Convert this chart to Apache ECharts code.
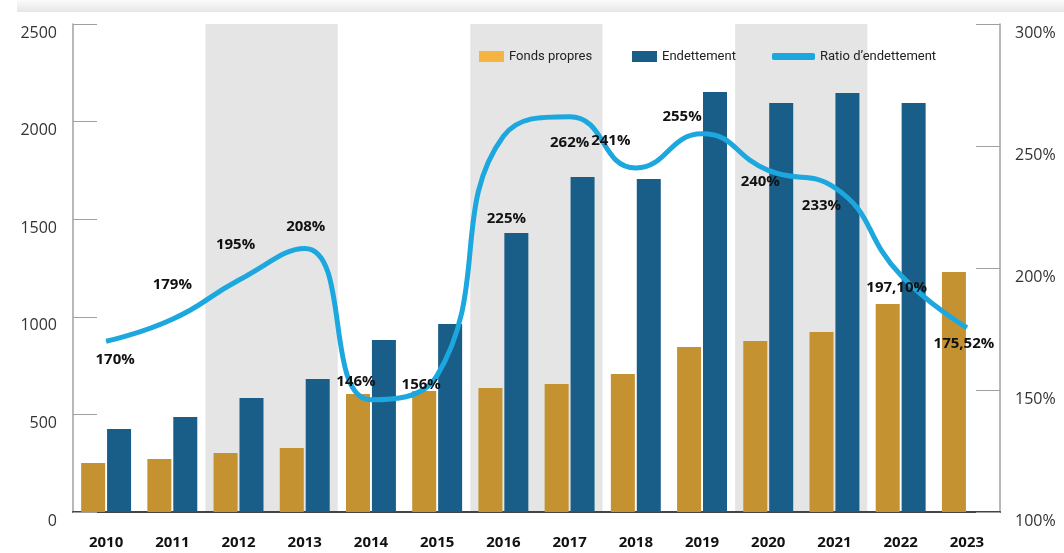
<!DOCTYPE html>
<html>
<head>
<meta charset="utf-8">
<script src="https://cdn.jsdelivr.net/npm/echarts@6/dist/echarts.min.js"></script>
<style>
  html, body { margin: 0; padding: 0; background: #fff; }
  #chart { width: 1064px; height: 553px; }
</style>
</head>
<body>
<div id="chart"></div>
<script>
// data
const years = ['2010', '2011', '2012', '2013', '2014', '2015', '2016', '2017', '2018', '2019', '2020', '2021', '2022', '2023']
const fondsPropres = [251, 272, 302, 328, 605, 620, 635, 656, 707, 845, 876, 922, 1066, 1230]
const endettement = [425, 487, 584, 681, 881, 963, 1429, 1716, 1706, 2152, 2095, 2146, 2095, null]
// ratio as drawn by the curve
const ratio = [170, 179, 195, 208, 146, 156, 254, 262, 241, 255, 240, 233, 197.1, 175.52]
const ratioLabels = ['170%', '179%', '195%', '208%', '146%', '156%', '225%', '262%', '241%', '255%', '240%', '233%', '197,10%', '175,52%']
const leftTicks = { min: 0, max: 2500, interval: 500 }
const rightTicks = { min: 100, max: 300, interval: 50 }

// where each ratio label sits relative to its point
const labelOffsets = [[9, 19], [0, -35], [-3, -35], [1, -22], [-15, -18], [-16, 9], [3, 82], [0, 26],
  [-25, -27], [-20, -17], [-8, 11], [-13, 18], [-4, 13], [-3, 16]]

const colors = {
  gold: '#C59232',
  goldLegend: '#F5B342',
  blue: '#195E89',
  line: '#1DA7DF',
  band: '#E4E5E4'
}

const font = 'Open Sans'
const chart = echarts.init(document.getElementById('chart'))

const legendText = { fontFamily: 'Roboto', fontSize: 13, color: '#222' }

chart.setOption({
  animation: false,
  textStyle: { fontFamily: font },
  graphic: [{
    type: 'rect',
    left: 17, top: 0,
    shape: { width: 1047, height: 12 },
    style: {
      fill: new echarts.graphic.LinearGradient(0, 0, 0, 1, [
        { offset: 0, color: '#fbfbfb' },
        { offset: 1, color: '#e6e6e6' }
      ])
    },
    z: -1
  }],
  legend: [
    {
      left: 474, top: 45, itemWidth: 25, itemHeight: 11, textStyle: legendText,
      data: [{ name: 'Fonds propres', icon: 'rect', itemStyle: { color: colors.goldLegend } }]
    },
    {
      left: 627, top: 45, itemWidth: 25, itemHeight: 11, textStyle: legendText,
      data: [{ name: 'Endettement', icon: 'rect' }]
    },
    {
      left: 767, top: 45, itemWidth: 43, itemHeight: 7, textStyle: legendText,
      data: [{ name: "Ratio d\u2019endettement", icon: 'roundRect' }]
    }
  ],
  grid: { left: 73, right: 64, top: 24, bottom: 41 },
  xAxis: {
    type: 'category',
    data: years,
    axisLine: { lineStyle: { color: '#444', width: 2 } },
    axisTick: { inside: true, length: 11, interval: 0, lineStyle: { color: '#333', width: 2 } },
    axisLabel: { interval: 0, margin: 23, fontFamily: font, fontSize: 15, fontWeight: 'bold', color: '#111' },
    splitArea: {
      show: true,
      interval: 0,
      areaStyle: { color: ['#ffffff', '#ffffff', colors.band, colors.band] }
    }
  },
  yAxis: [
    {
      type: 'value',
      min: leftTicks.min, max: leftTicks.max, interval: leftTicks.interval,
      axisLine: { show: true, lineStyle: { color: '#a0a0a0', width: 1.5 } },
      axisTick: { show: true, inside: true, length: 24, lineStyle: { color: '#a0a0a0' } },
      splitLine: { show: false },
      axisLabel: {
        fontFamily: font, fontSize: 16, color: '#333', margin: 16,
        verticalAlign: 'top', padding: [1, 0, 0, 0],
        formatter: v => String(v)
      }
    },
    {
      type: 'value',
      min: rightTicks.min, max: rightTicks.max, interval: rightTicks.interval,
      axisLine: { show: true, lineStyle: { color: '#a0a0a0', width: 1.5 } },
      axisTick: { show: true, inside: true, length: 24, lineStyle: { color: '#a0a0a0' } },
      splitLine: { show: false },
      axisLabel: {
        fontFamily: font, fontSize: 16, color: '#333', margin: 15,
        verticalAlign: 'top', padding: [1, 0, 0, 0],
        formatter: v => v + '%'
      }
    }
  ],
  series: [
    {
      name: 'Fonds propres',
      type: 'bar',
      data: fondsPropres,
      barWidth: 24,
      barGap: '8%',
      itemStyle: { color: colors.gold }
    },
    {
      name: 'Endettement',
      type: 'bar',
      data: endettement,
      barWidth: 24,
      itemStyle: { color: colors.blue }
    },
    {
      name: "Ratio d\u2019endettement",
      type: 'line',
      yAxisIndex: 1,
      smooth: 0.5,
      symbol: 'circle',
      symbolSize: 1,
      showSymbol: true,
      z: 5,
      lineStyle: { color: colors.line, width: 5 },
      itemStyle: { color: colors.line },
      data: ratio.map((v, i) => ({
        value: v,
        label: {
          show: true,
          position: 'inside',
          offset: labelOffsets[i],
          formatter: ratioLabels[i],
          fontFamily: font,
          fontSize: 15,
          fontWeight: 'bold',
          color: '#111'
        }
      }))
    }
  ]
})
</script>
</body>
</html>
